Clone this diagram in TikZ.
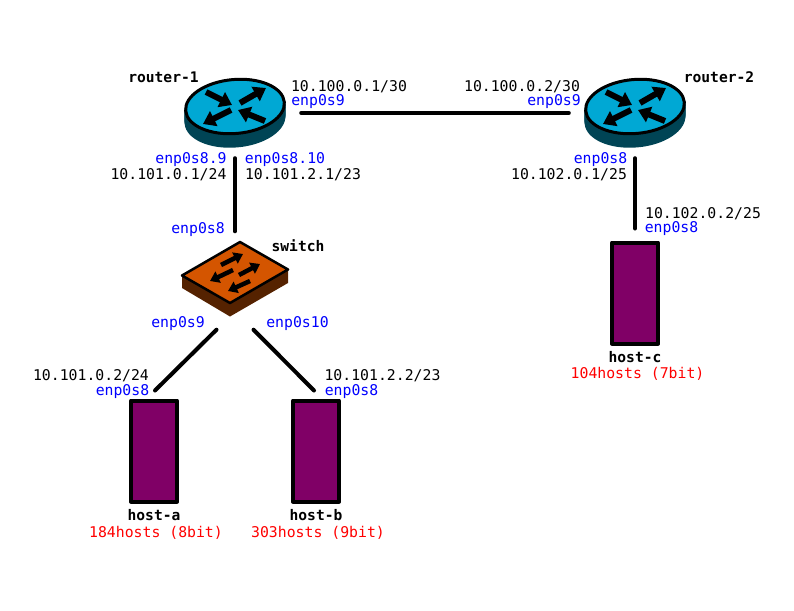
\documentclass[tikz,border=0pt]{standalone}
\usepackage{fontspec}
\setmainfont{DejaVu Sans Mono}
\usetikzlibrary{arrows.meta}
\usetikzlibrary{shapes.geometric}

\definecolor{routertop}{HTML}{00A8D4}
\definecolor{routerside}{HTML}{004455}
\definecolor{switchtop}{HTML}{D45500}
\definecolor{switchside}{HTML}{552200}
\definecolor{hostfill}{HTML}{800066}

\tikzset{
	every node/.style={font=\fontsize{14.8pt}{17pt}\selectfont,inner sep=0pt,text height=12pt,text depth=2pt},
	link/.style={line width=4pt,line cap=round},
	hostbox/.style={draw,line width=4pt,line join=round,fill=hostfill,minimum width=46pt,minimum height=101pt},
	routerbox/.style={ellipse,minimum width=102pt,minimum height=70pt},
	switchbox/.style={rectangle,minimum width=106pt,minimum height=75pt},
	routerarrow/.style={line width=6pt,-{Triangle[length=12pt,width=16pt]}},
	switcharrow/.style={line width=4.5pt,-{Triangle[length=9pt,width=12pt]}},
	iface/.style={text=blue},
	addr/.style={text=black},
	devname/.style={font=\fontsize{14.6pt}{17pt}\selectfont\bfseries},
	hostcount/.style={text=red}
}

\newcommand{\routericon}[3]{
	\node[routerbox] (#1) at (#2,#3) {};
	\begin{scope}[shift={(#2,#3)}]
		\foreach \d in {0,...,13}
			\fill[routerside,rotate around={5:(0,-6.5+\d)}] (0,-6.5+\d) ellipse [x radius=50.5pt,y radius=28pt];
		\draw[fill=routertop,line width=3pt,rotate around={5:(0,-6.5)}] (0,-6.5) ellipse [x radius=49.5pt,y radius=27pt];
		\draw[routerarrow] (-29,-21) -- (-3,-8);
		\draw[routerarrow] (5,-10) -- (31,-25);
		\draw[routerarrow] (-4,-3) -- (-32,11);
		\draw[routerarrow] (30,8) -- (3,-3);
	\end{scope}
}

\newcommand{\switchicon}[3]{
	\node[switchbox] (#1) at (#2,#3) {};
	\begin{scope}[shift={(#2,#3)}]
		\fill[switchside] (-53,-3.5) -- (-53,9) -- (-5,37.5) -- (53,4) -- (53,-9.5) -- cycle;
		\draw[fill=switchtop,line width=2.5pt,line join=round] (5,-37) -- (53,-9.5) -- (-5,24) -- (-53,-3.5) -- cycle;
		\draw[switcharrow] (-14,-14) -- (8,-25);
		\draw[switcharrow] (-2,-9) -- (-25,2);
		\draw[switcharrow] (4,-4) -- (25,-15);
		\draw[switcharrow] (15,2) -- (-7,12);
	\end{scope}
}

\begin{document}
\begin{tikzpicture}[x=1pt,y=-1pt]
	\useasboundingbox (0,0) rectangle (794,610);

	\routericon{r1}{235}{113}
	\routericon{r2}{635}{113}
	\switchicon{sw}{235}{279}

	\node[hostbox] (ha) at (154,451) {};
	\node[hostbox] (hb) at (316,451) {};
	\node[hostbox] (hc) at (635,293) {};

	\draw[link,shorten <=15pt,shorten >=15pt] (r1) -- (r2);
	\draw[link,shorten <=10pt,shorten >=10pt] (r1) -- (sw);
	\draw[link,shorten <=10pt,shorten >=12pt] (r2) -- (hc);
	\draw[link] ([xshift=-18.5pt,yshift=-13pt]sw.south) -- ([xshift=1pt,yshift=8pt]ha.north);
	\draw[link] ([xshift=18.5pt,yshift=-13pt]sw.south) -- ([xshift=-2pt,yshift=8pt]hb.north);

	\node[devname] (lr1) at (163.5,77) {router-1};
	\node[devname] (lr2) at (719,77) {router-2};
	\node[devname] (lsw) at (298,246) {switch};
	\node[devname] (lha) at (154,515) {host-a};
	\node[devname] (lhb) at (316,515) {host-b};
	\node[devname] (lhc) at (635,357) {host-c};

	\node[addr] (a1) at (349,86) {10.100.0.1/30};
	\node[iface] (i1) at (318,100) {enp0s9};
	\node[addr] (a2) at (522,86) {10.100.0.2/30};
	\node[iface] (i2) at (554,100) {enp0s9};

	\node[iface] (i3) at (191,158.5) {enp0s8.9};
	\node[addr] (a3) at (168.5,174) {10.101.0.1/24};
	\node[iface] (i4) at (285,158.5) {enp0s8.10};
	\node[addr] (a4) at (303,174) {10.101.2.1/23};

	\node[iface] (i5) at (600.5,158.5) {enp0s8};
	\node[addr] (a5) at (569,174) {10.102.0.1/25};
	\node[addr] (a6) at (703,213) {10.102.0.2/25};
	\node[iface] (i6) at (671.5,227) {enp0s8};

	\node[iface] (i7) at (198,228) {enp0s8};
	\node[iface] (i8) at (178,322) {enp0s9};
	\node[iface] (i9) at (297.5,322) {enp0s10};

	\node[addr] (a7) at (91,375) {10.101.0.2/24};
	\node[iface] (i10) at (122.5,390) {enp0s8};
	\node[addr] (a8) at (382.5,375) {10.101.2.2/23};
	\node[iface] (i11) at (351.5,390) {enp0s8};

	\node[hostcount] (c1) at (156,532) {184hosts (8bit)};
	\node[hostcount] (c2) at (318,532) {303hosts (9bit)};
	\node[hostcount] (c3) at (637.5,373) {104hosts (7bit)};
\end{tikzpicture}
\end{document}
